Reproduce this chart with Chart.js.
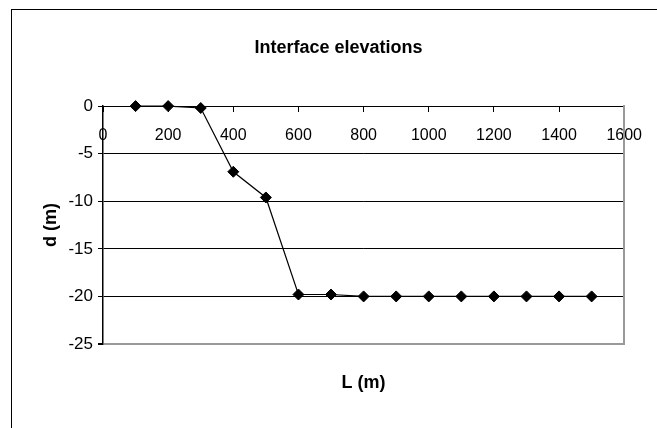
<!DOCTYPE html>
<html>
<head>
<meta charset="utf-8">
<script src="https://cdn.jsdelivr.net/npm/chart.js@4.4.1/dist/chart.umd.min.js"></script>
<style>
  html, body { margin: 0; padding: 0; background: #fff; }
  #wrap { position: relative; width: 657px; height: 428px; }
</style>
</head>
<body>
<div id="wrap"><canvas id="chart" width="657" height="428"></canvas></div>
<script>
// distance along the section (m) and interface elevation (m)
const distances = [100, 200, 300, 400, 500, 600, 700, 800, 900, 1000, 1100, 1200, 1300, 1400, 1500];
const elevations = [0, 0, -0.2, -6.9, -9.6, -19.8, -19.8, -20, -20, -20, -20, -20, -20, -20, -20];

const xRange = [0, 1600];
const yRange = [-25, 0];

const chartTitle = 'Interface elevations';
const xTitle = 'L (m)';
const yTitle = 'd (m)';

const fontFamily = "'Liberation Sans', Arial, sans-serif";

const frame = {
    id: 'frame',
    beforeDraw(chart) {
        const ctx = chart.ctx;
        ctx.save();
        ctx.fillStyle = '#fff';
        ctx.fillRect(0, 0, chart.width, chart.height);
        ctx.strokeStyle = '#000';
        ctx.lineWidth = 1;
        ctx.strokeRect(11.5, 9.5, 800, 600);
        ctx.restore();
    }
};

const points = distances.map((d, i) => ({ x: d, y: elevations[i] }));

new Chart(document.getElementById('chart'), {
    type: 'line',
    data: {
        datasets: [{
            data: points,
            borderColor: '#000',
            backgroundColor: '#000',
            borderWidth: 1.2,
            pointStyle: 'rectRot',
            pointRadius: 5.5,
            pointBorderWidth: 1,
            pointBorderColor: '#000',
            pointBackgroundColor: '#000',
            tension: 0,
            clip: false
        }]
    },
    options: {
        responsive: false,
        animation: false,
        layout: { padding: { left: 20, right: 0, top: 0, bottom: 0 } },
        plugins: {
            legend: { display: false },
            tooltip: { enabled: false },
            title: {
                display: true,
                text: chartTitle,
                color: '#000',
                font: { family: fontFamily, size: 18, weight: 'bold' },
                padding: { top: 37, bottom: 47.5 }
            }
        },
        scales: {
            x: {
                type: 'linear',
                position: { y: 0 },
                min: xRange[0],
                max: xRange[1],
                ticks: {
                    stepSize: 200,
                    color: '#000',
                    padding: 15,
                    font: { family: fontFamily, size: 16 },
                    maxRotation: 0,
                    callback: v => String(v)
                },
                grid: {
                    drawOnChartArea: false,
                    drawTicks: true,
                    tickLength: 5,
                    tickColor: '#000'
                },
                border: { color: '#000', width: 1 }
            },
            x2: {
                axis: 'x',
                type: 'linear',
                position: 'bottom',
                ticks: { display: false },
                grid: { display: false },
                border: { display: false },
                title: {
                    display: true,
                    text: xTitle,
                    color: '#000',
                    font: { family: fontFamily, size: 18, weight: 'bold' },
                    padding: { top: 0, bottom: 34 }
                },
                afterFit(scale) { scale.height = 84; }
            },
            y: {
                type: 'linear',
                position: 'left',
                min: yRange[0],
                max: yRange[1],
                ticks: {
                    stepSize: 5,
                    color: '#000',
                    padding: 5,
                    font: { family: fontFamily, size: 17 },
                    callback: v => String(v)
                },
                grid: {
                    color: ctx => ctx.tick && ctx.tick.value === yRange[0] ? '#999' : '#000',
                    lineWidth: ctx => ctx.tick && ctx.tick.value === yRange[0] ? 2 : 1,
                    tickColor: '#000',
                    tickLength: 5
                },
                border: { color: '#000', width: 1.5 },
                title: {
                    display: true,
                    text: yTitle,
                    color: '#000',
                    font: { family: fontFamily, size: 18, weight: 'bold' },
                    padding: { top: 20, bottom: 0 }
                },
                afterFit(scale) { scale.width = 83; }
            },
            y2: {
                axis: 'y',
                type: 'linear',
                position: 'right',
                min: yRange[0],
                max: yRange[1],
                ticks: { display: false },
                grid: { drawOnChartArea: false, drawTicks: false },
                border: { color: '#999', width: 2 },
                afterFit(scale) { scale.width = 29; }
            }
        }
    },
    plugins: [frame]
});
</script>
</body>
</html>
